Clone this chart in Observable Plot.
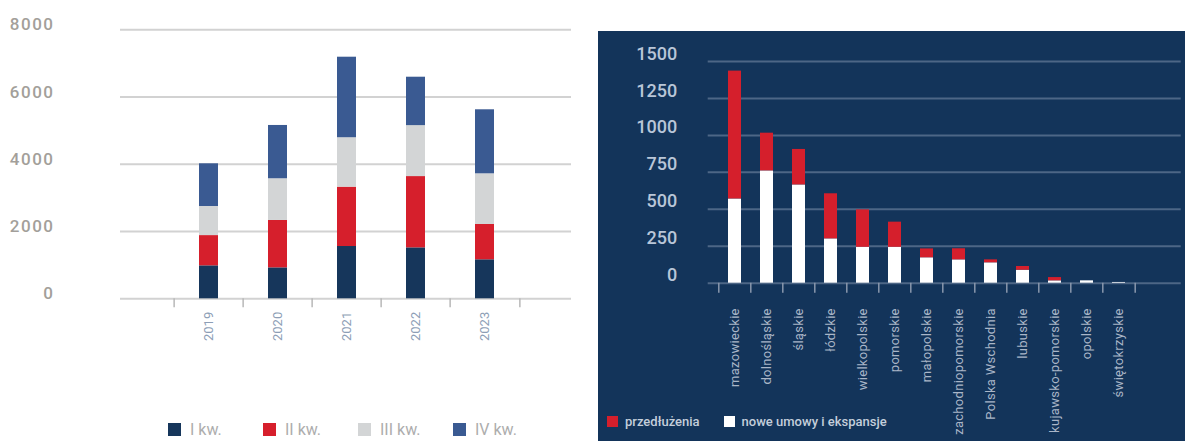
<!DOCTYPE html>
<html>
<head>
<meta charset="utf-8">
<script src="https://cdn.jsdelivr.net/npm/d3@7"></script>
<script src="https://cdn.jsdelivr.net/npm/@observablehq/plot@0.6"></script>
<style>
  html, body { margin: 0; padding: 0; }
  body { width: 1185px; height: 441px; background: #fff; position: relative; overflow: hidden; font-family: Roboto, "Liberation Sans", sans-serif; }
  #left { position: absolute; left: 0; top: 0; width: 598px; height: 441px; }
  #right { position: absolute; left: 598px; top: 31px; width: 587px; height: 410px; background: #13345a; }
  #left svg, #right svg { position: absolute; left: 0; top: 0; overflow: visible; }
  #left g[aria-label="y-axis tick label"] text { letter-spacing: 1.5px; }
  #right g[aria-label="x-axis tick label"] text { letter-spacing: 0.3px; }
  .legend { position: absolute; display: flex; align-items: center; }
  .legend .item { display: flex; align-items: center; }
  .legend .sw { display: inline-block; }
  #legendL { left: 168px; top: 420px; font-size: 16px; color: #adadad; }
  #legendL .item { width: 95px; }
  #legendL .sw { width: 13px; height: 13px; margin-right: 9px; }
  #legendR { left: 9px; top: 383px; font-size: 13px; color: #c4cedb; font-weight: 500; }
  #legendR .sw { width: 11px; height: 11px; margin-right: 7px; }
  #legendR .item:first-child { margin-right: 24px; }
</style>
</head>
<body>
<div id="left"></div>
<div id="right"></div>
<script>
// ---- Left chart data ----
const years = ["2019", "2020", "2021", "2022", "2023"];
const quarters = ["I kw.", "II kw.", "III kw.", "IV kw."];
const q1 = [980, 920, 1555, 1515, 1160];
const q2 = [900, 1410, 1765, 2120, 1050];
const q3 = [865, 1240, 1470, 1515, 1507];
const q4 = [1270, 1585, 2395, 1440, 1904];
const quarterColors = ["#16365b", "#d61f2c", "#d3d5d6", "#3a5a92"];
const yTicksLeft = [0, 2000, 4000, 6000, 8000];

// ---- Right chart data ----
const regions = ["mazowieckie", "dolnośląskie", "śląskie", "łódzkie", "wielkopolskie", "pomorskie", "małopolskie", "zachodniopomorskie", "Polska Wschodnia", "lubuskie", "kujawsko-pomorskie", "opolskie", "świętokrzyskie"];
const noweUmowy = [570, 760, 665, 300, 243, 243, 172, 158, 138, 88, 16, 16, 5];
const przedluzenia = [865, 255, 240, 305, 253, 170, 60, 75, 20, 25, 22, 0, 0];
const seriesR = ["nowe umowy i ekspansje", "przedłużenia"];
const seriesRColors = ["#ffffff", "#d51f2c"];
const yTicksRight = [0, 250, 500, 750, 1000, 1250, 1500];

const qSeries = [q1, q2, q3, q4];
const leftData = years.flatMap((yr, i) => quarters.map((q, j) => ({year: yr, q, value: qSeries[j][i]})));
const rightData = regions.flatMap((r, i) => [
  {region: r, s: seriesR[0], value: noweUmowy[i]},
  {region: r, s: seriesR[1], value: przedluzenia[i]}
]);

const font = "Roboto, 'Liberation Sans', sans-serif";

// Left
const xRangeL = [172.3, 521];
const stepL = (xRangeL[1] - xRangeL[0]) / years.length;
const left = Plot.plot({
  width: 598, height: 441,
  marginLeft: 120, marginRight: 27, marginTop: 29.3, marginBottom: 142.7,
  style: {background: "transparent", fontFamily: font, overflow: "visible"},
  x: {type: "band", domain: years, range: xRangeL, paddingInner: 0.723, paddingOuter: 0.3615},
  y: {domain: [0, 8000]},
  color: {domain: quarters, range: quarterColors},
  marks: [
    Plot.ruleY(yTicksLeft, {stroke: "#d2d2d2", strokeWidth: 2}),
    Plot.barY(leftData, {x: "year", y: "value", fill: "q"}),
    Plot.axisY({ticks: yTicksLeft, tickSize: 0, tickPadding: 66, dy: -5, fontSize: 17, fontWeight: 500, fill: "#a39f9a", tickFormat: "d", label: null}),
    Plot.axisX({tickSize: 0, tickPadding: 13, tickRotate: -90, fontSize: 13, fill: "#8d9eb6", label: null}),
    Plot.axisX({ticks: years, tickSize: 9, tickFormat: () => "", dx: -stepL / 2, stroke: "#b8b8b8", strokeWidth: 1.5, label: null}),
    Plot.axisX({ticks: years.slice(-1), tickSize: 9, tickFormat: () => "", dx: stepL / 2, stroke: "#b8b8b8", strokeWidth: 1.5, label: null})
  ]
});
document.getElementById("left").appendChild(left);

// Right
const xRangeR = [117.5, 538.7];
const stepR = (xRangeR[1] - xRangeR[0]) / regions.length;
const right = Plot.plot({
  width: 587, height: 410,
  marginLeft: 109.7, marginRight: 4.3, marginTop: 30, marginBottom: 158.3,
  style: {background: "transparent", fontFamily: font, overflow: "visible"},
  x: {type: "band", domain: regions, range: xRangeR, paddingInner: 0.59, paddingOuter: 0.295},
  y: {domain: [0, 1500]},
  color: {domain: seriesR, range: seriesRColors},
  marks: [
    Plot.ruleY(yTicksRight, {stroke: "#4d6686", strokeWidth: 2}),
    Plot.barY(rightData, {x: "region", y: "value", fill: "s"}),
    Plot.axisY({ticks: yTicksRight, tickSize: 0, tickPadding: 31, dy: -7.7, fontSize: 18, fontWeight: 500, fill: "#b9c6d8", tickFormat: "d", label: null}),
    Plot.axisX({tickSize: 0, tickPadding: 25, tickRotate: -90, fontSize: 13, fill: "#aab6c8", label: null}),
    Plot.axisX({ticks: regions, tickSize: 10, tickFormat: () => "", dx: -stepR / 2, stroke: "#8a98ad", strokeWidth: 1.5, label: null}),
    Plot.axisX({ticks: regions.slice(-1), tickSize: 10, tickFormat: () => "", dx: stepR / 2, stroke: "#8a98ad", strokeWidth: 1.5, label: null})
  ]
});
document.getElementById("right").appendChild(right);

// Legends
function legend(id, names, colors) {
  const div = document.createElement("div");
  div.className = "legend";
  div.id = id;
  names.forEach((n, i) => {
    const it = document.createElement("div");
    it.className = "item";
    const sw = document.createElement("span");
    sw.className = "sw";
    sw.style.background = colors[i];
    const t = document.createElement("span");
    t.textContent = n;
    it.appendChild(sw); it.appendChild(t);
    div.appendChild(it);
  });
  return div;
}
document.getElementById("left").appendChild(legend("legendL", quarters, quarterColors));
document.getElementById("right").appendChild(legend("legendR", [seriesR[1], seriesR[0]], [seriesRColors[1], seriesRColors[0]]));
</script>
</body>
</html>
